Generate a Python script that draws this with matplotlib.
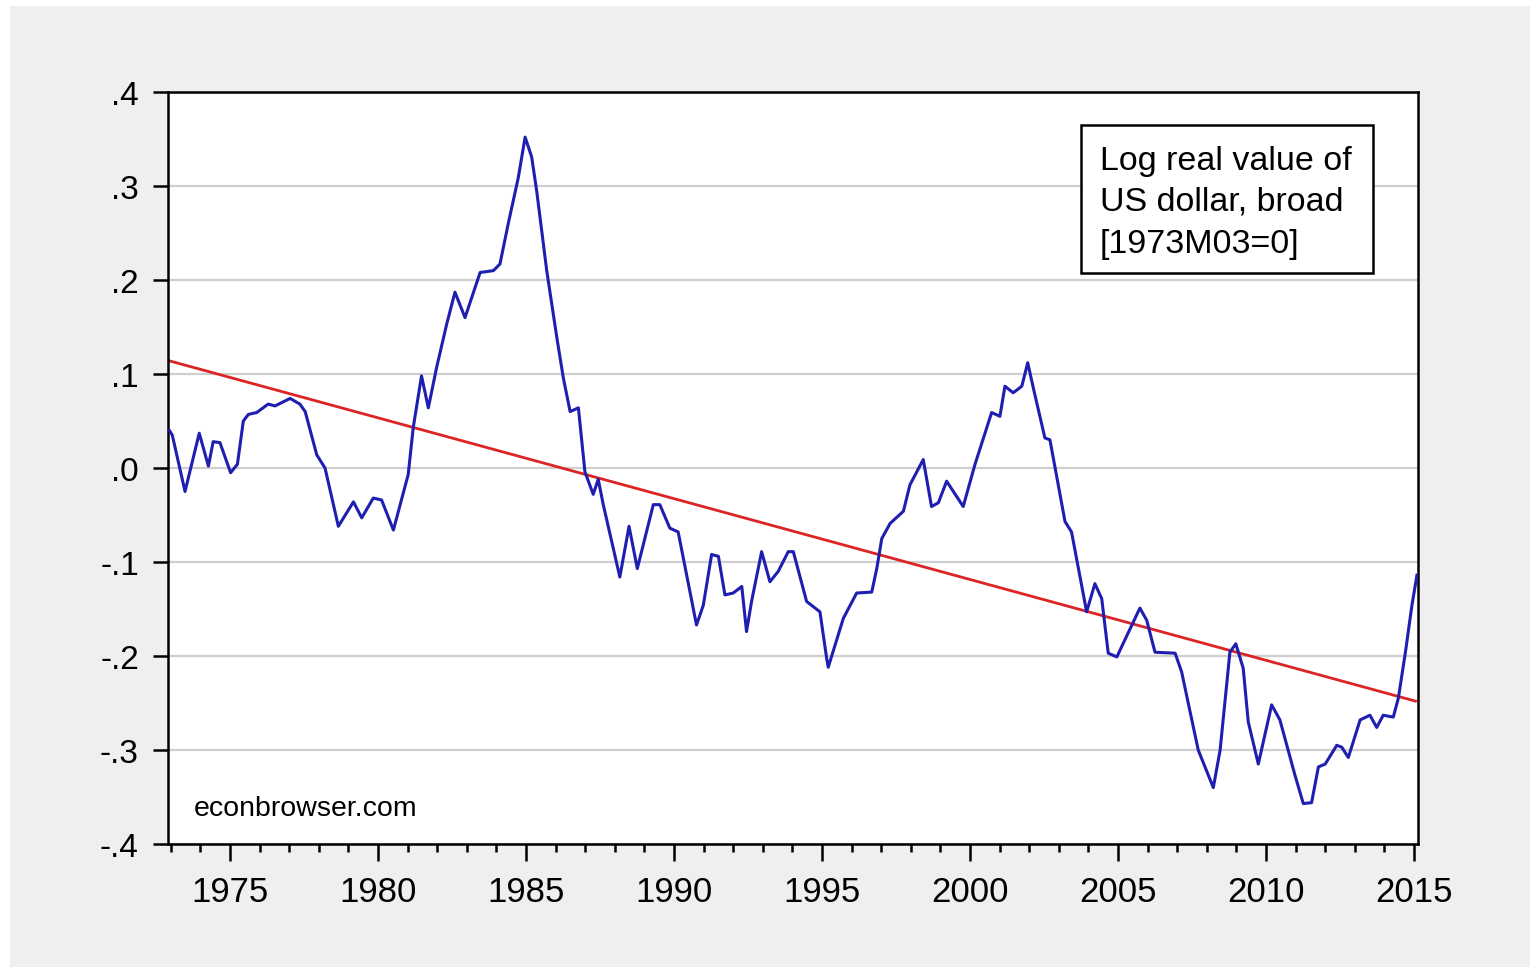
import matplotlib
matplotlib.use("Agg")
import matplotlib.pyplot as plt
from matplotlib.patches import Rectangle
from matplotlib.ticker import FixedLocator

# log real value of US dollar (broad)
years = [1972.95, 1973.05, 1973.48, 1973.96, 1974.27, 1974.43, 1974.66, 1975.02, 1975.25, 1975.45,
         1975.62, 1975.90, 1976.29, 1976.52, 1977.03, 1977.36, 1977.54, 1977.93, 1978.21, 1978.66,
         1979.17, 1979.45, 1979.84, 1980.12, 1980.52, 1981.02, 1981.19, 1981.47, 1981.70, 1981.98,
         1982.32, 1982.60, 1982.94, 1983.45, 1983.90, 1984.12, 1984.40, 1984.74, 1984.97, 1985.19,
         1985.36, 1985.70, 1986.04, 1986.26, 1986.49, 1986.77, 1986.99, 1987.27, 1987.44, 1987.61,
         1988.17, 1988.48, 1988.76, 1989.30, 1989.52, 1989.86, 1990.14, 1990.76, 1990.99, 1991.27,
         1991.50, 1991.72, 1992.00, 1992.29, 1992.45, 1992.62, 1992.96, 1993.24, 1993.52, 1993.86,
         1994.03, 1994.48, 1994.93, 1995.16, 1995.21, 1995.72, 1996.17, 1996.68, 1996.85, 1997.02,
         1997.30, 1997.75, 1997.97, 1998.42, 1998.70, 1998.93, 1999.21, 1999.77, 2000.17, 2000.73,
         2001.01, 2001.18, 2001.46, 2001.75, 2001.95, 2002.14, 2002.53, 2002.70, 2003.21, 2003.43,
         2003.94, 2004.22, 2004.45, 2004.67, 2004.96, 2005.74, 2005.97, 2006.25, 2006.93, 2007.15,
         2007.71, 2008.22, 2008.45, 2008.78, 2008.98, 2009.23, 2009.40, 2009.74, 2010.19, 2010.47,
         2010.98, 2011.26, 2011.54, 2011.77, 2012.00, 2012.39, 2012.56, 2012.78, 2013.18, 2013.51,
         2013.74, 2013.96, 2014.30, 2014.47, 2014.71, 2014.93, 2015.10]
dollar = [0.040, 0.035, -0.025, 0.037, 0.002, 0.028, 0.027, -0.005, 0.004, 0.050,
          0.057, 0.059, 0.068, 0.066, 0.074, 0.068, 0.060, 0.014, 0.000, -0.062,
          -0.036, -0.053, -0.032, -0.034, -0.066, -0.007, 0.043, 0.098, 0.064, 0.107,
          0.153, 0.187, 0.160, 0.208, 0.210, 0.217, 0.260, 0.309, 0.352, 0.331,
          0.295, 0.210, 0.139, 0.096, 0.060, 0.064, -0.004, -0.028, -0.012, -0.039,
          -0.116, -0.062, -0.107, -0.039, -0.039, -0.064, -0.068, -0.167, -0.146, -0.092,
          -0.094, -0.135, -0.133, -0.126, -0.174, -0.142, -0.089, -0.121, -0.110, -0.089,
          -0.089, -0.142, -0.153, -0.203, -0.212, -0.160, -0.133, -0.132, -0.107, -0.075,
          -0.059, -0.046, -0.018, 0.009, -0.041, -0.037, -0.014, -0.041, 0.004, 0.059,
          0.055, 0.087, 0.080, 0.087, 0.112, 0.085, 0.032, 0.030, -0.057, -0.068,
          -0.153, -0.123, -0.139, -0.197, -0.201, -0.149, -0.162, -0.196, -0.197, -0.217,
          -0.300, -0.340, -0.300, -0.196, -0.187, -0.213, -0.270, -0.315, -0.252, -0.268,
          -0.327, -0.357, -0.356, -0.318, -0.315, -0.295, -0.297, -0.308, -0.268, -0.263,
          -0.276, -0.263, -0.265, -0.245, -0.196, -0.146, -0.114]

# linear trend (red)
trend_years = [1972.95, 2015.05]
trend_vals = [0.114, -0.248]

ytick_vals = [-0.4, -0.3, -0.2, -0.1, 0.0, 0.1, 0.2, 0.3, 0.4]
ytick_labels = ["-.4", "-.3", "-.2", "-.1", ".0", ".1", ".2", ".3", ".4"]
xtick_years = [1975, 1980, 1985, 1990, 1995, 2000, 2005, 2010, 2015]

legend_lines = ["Log real value of", "US dollar, broad", "[1973M03=0]"]

plt.rcParams['font.family'] = ['Liberation Sans', 'DejaVu Sans']

fig = plt.figure(figsize=(15.36, 9.70), dpi=100, facecolor="white")
fig.add_artist(Rectangle((10 / 1536, 2 / 970), 1520 / 1536, 961 / 970,
                         transform=fig.transFigure, facecolor="#efefef",
                         edgecolor="none", zorder=0))

ax = fig.add_axes([168 / 1536, 125 / 970, 1250 / 1536, 752 / 970])
ax.set_facecolor("white")

ax.plot(years, dollar, color="#1e1eb0", linewidth=2.2, zorder=3)
ax.plot(trend_years, trend_vals, color="#dc2424", linewidth=2.0, zorder=2)

ax.set_xlim(1972.905, 2015.135)
ax.set_ylim(-0.4, 0.4)

ax.set_yticks(ytick_vals)
ax.set_yticklabels(ytick_labels)
ax.set_xticks(xtick_years)
ax.set_xticklabels([str(y) for y in xtick_years])
ax.xaxis.set_minor_locator(FixedLocator(list(range(1973, 2016))))

ax.grid(axis="y", color="#cfcfcf", linewidth=1.6, zorder=1)
ax.set_axisbelow(True)

for s in ax.spines.values():
    s.set_linewidth(1.8)
    s.set_color("black")

ax.tick_params(axis="y", direction="out", length=11, width=1.8, pad=10,
               labelsize=24, left=True, right=False)
ax.tick_params(axis="x", which="major", direction="out", length=12, width=1.8,
               pad=10, labelsize=25, top=False)
ax.tick_params(axis="x", which="minor", direction="out", length=6, width=1.8, top=False)

# legend box
ax.add_patch(Rectangle((0.7304, 0.759), 0.2336, 0.197, transform=ax.transAxes,
                       facecolor="white", edgecolor="black", linewidth=1.8, zorder=5))
for line, yb in zip(legend_lines, [0.8976, 0.8444, 0.7872]):
    ax.text(0.7456, yb, line, transform=ax.transAxes, fontsize=24.5,
            va="baseline", ha="left", zorder=6)

ax.text(0.0208, 0.0386, "econbrowser.com", transform=ax.transAxes, fontsize=20.5,
        va="baseline", ha="left", zorder=6)

fig.savefig("out.png", dpi=100, facecolor=fig.get_facecolor())
